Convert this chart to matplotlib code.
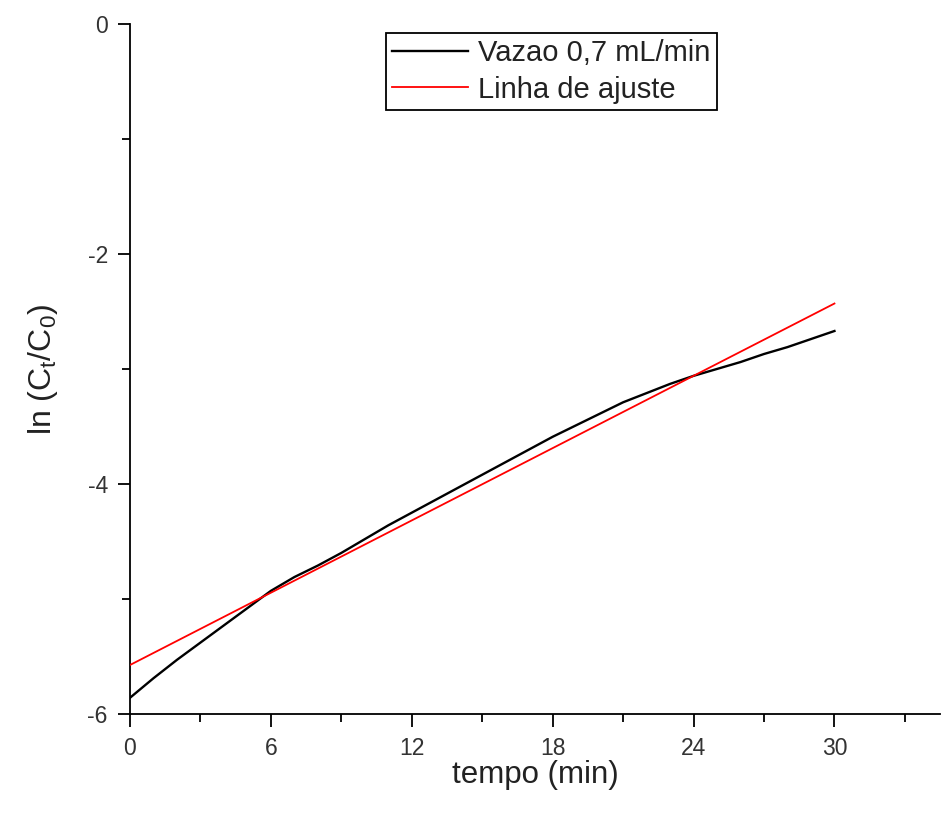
import matplotlib
matplotlib.use("Agg")
import matplotlib.pyplot as plt
from matplotlib.ticker import MultipleLocator
import numpy as np

plt.rcParams["font.family"] = ["Liberation Sans", "DejaVu Sans"]
plt.rcParams["mathtext.default"] = "regular"
plt.rcParams["axes.unicode_minus"] = False

tempo = [0, 1, 2, 3, 4, 5, 6, 7, 8, 9, 10, 11, 12, 13, 14, 15,
         16, 17, 18, 19, 20, 21, 22, 23, 24, 25, 26, 27, 28, 29, 30]
ln_c = [-5.86, -5.69, -5.53, -5.38, -5.23, -5.08, -4.93, -4.81, -4.71, -4.60,
        -4.48, -4.36, -4.25, -4.14, -4.03, -3.92, -3.81, -3.70, -3.59, -3.49,
        -3.39, -3.29, -3.21, -3.13, -3.06, -3.00, -2.94, -2.87, -2.81, -2.74, -2.67]

# linear fit
fit_x = [0, 30]
fit_intercept = -5.575
fit_slope = 0.1048

fig = plt.figure(figsize=(9.42, 8.14), dpi=100)
ax = fig.add_axes([0.138, 0.123, 0.860, 0.8475])

ax.plot(tempo, ln_c, color="black", lw=1.7, label="Vazao 0,7 mL/min", zorder=3)
fx = np.array(fit_x, dtype=float)
ax.plot(fx, fit_intercept + fit_slope * fx, color="red", lw=1.3, label="Linha de ajuste", zorder=4)

ax.set_xlim(0, 34.5)
ax.set_ylim(-6, 0)
ax.xaxis.set_major_locator(MultipleLocator(6))
ax.xaxis.set_minor_locator(MultipleLocator(3))
ax.yaxis.set_major_locator(MultipleLocator(2))
ax.yaxis.set_minor_locator(MultipleLocator(1))
for s in ("top", "right"):
    ax.spines[s].set_visible(False)
for s in ("left", "bottom"):
    ax.spines[s].set_linewidth(1.3)
ax.tick_params(which="major", direction="out", length=9, width=1.3, labelsize=16.5,
               labelcolor="#333333")
ax.tick_params(which="minor", direction="out", length=5.5, width=1.3)
ax.tick_params(axis="x", which="major", pad=8)
ax.tick_params(axis="y", which="major", pad=7)

ax.set_xlabel("tempo (min)", fontsize=22.5, labelpad=0, color="#222222")
ax.set_ylabel("ln (C$_t$/C$_0$)", fontsize=23, labelpad=20, color="#222222")

leg = ax.legend(loc="upper right", bbox_to_anchor=(0.7247, 0.987), borderaxespad=0,
                fontsize=21, fancybox=False, edgecolor="black", framealpha=1,
                handlelength=2.6, handletextpad=0.35, labelspacing=0.28,
                borderpad=0.22)
leg.get_frame().set_linewidth(1.3)
for t in leg.get_texts():
    t.set_color("#222222")

fig.savefig("out.png", dpi=100)
